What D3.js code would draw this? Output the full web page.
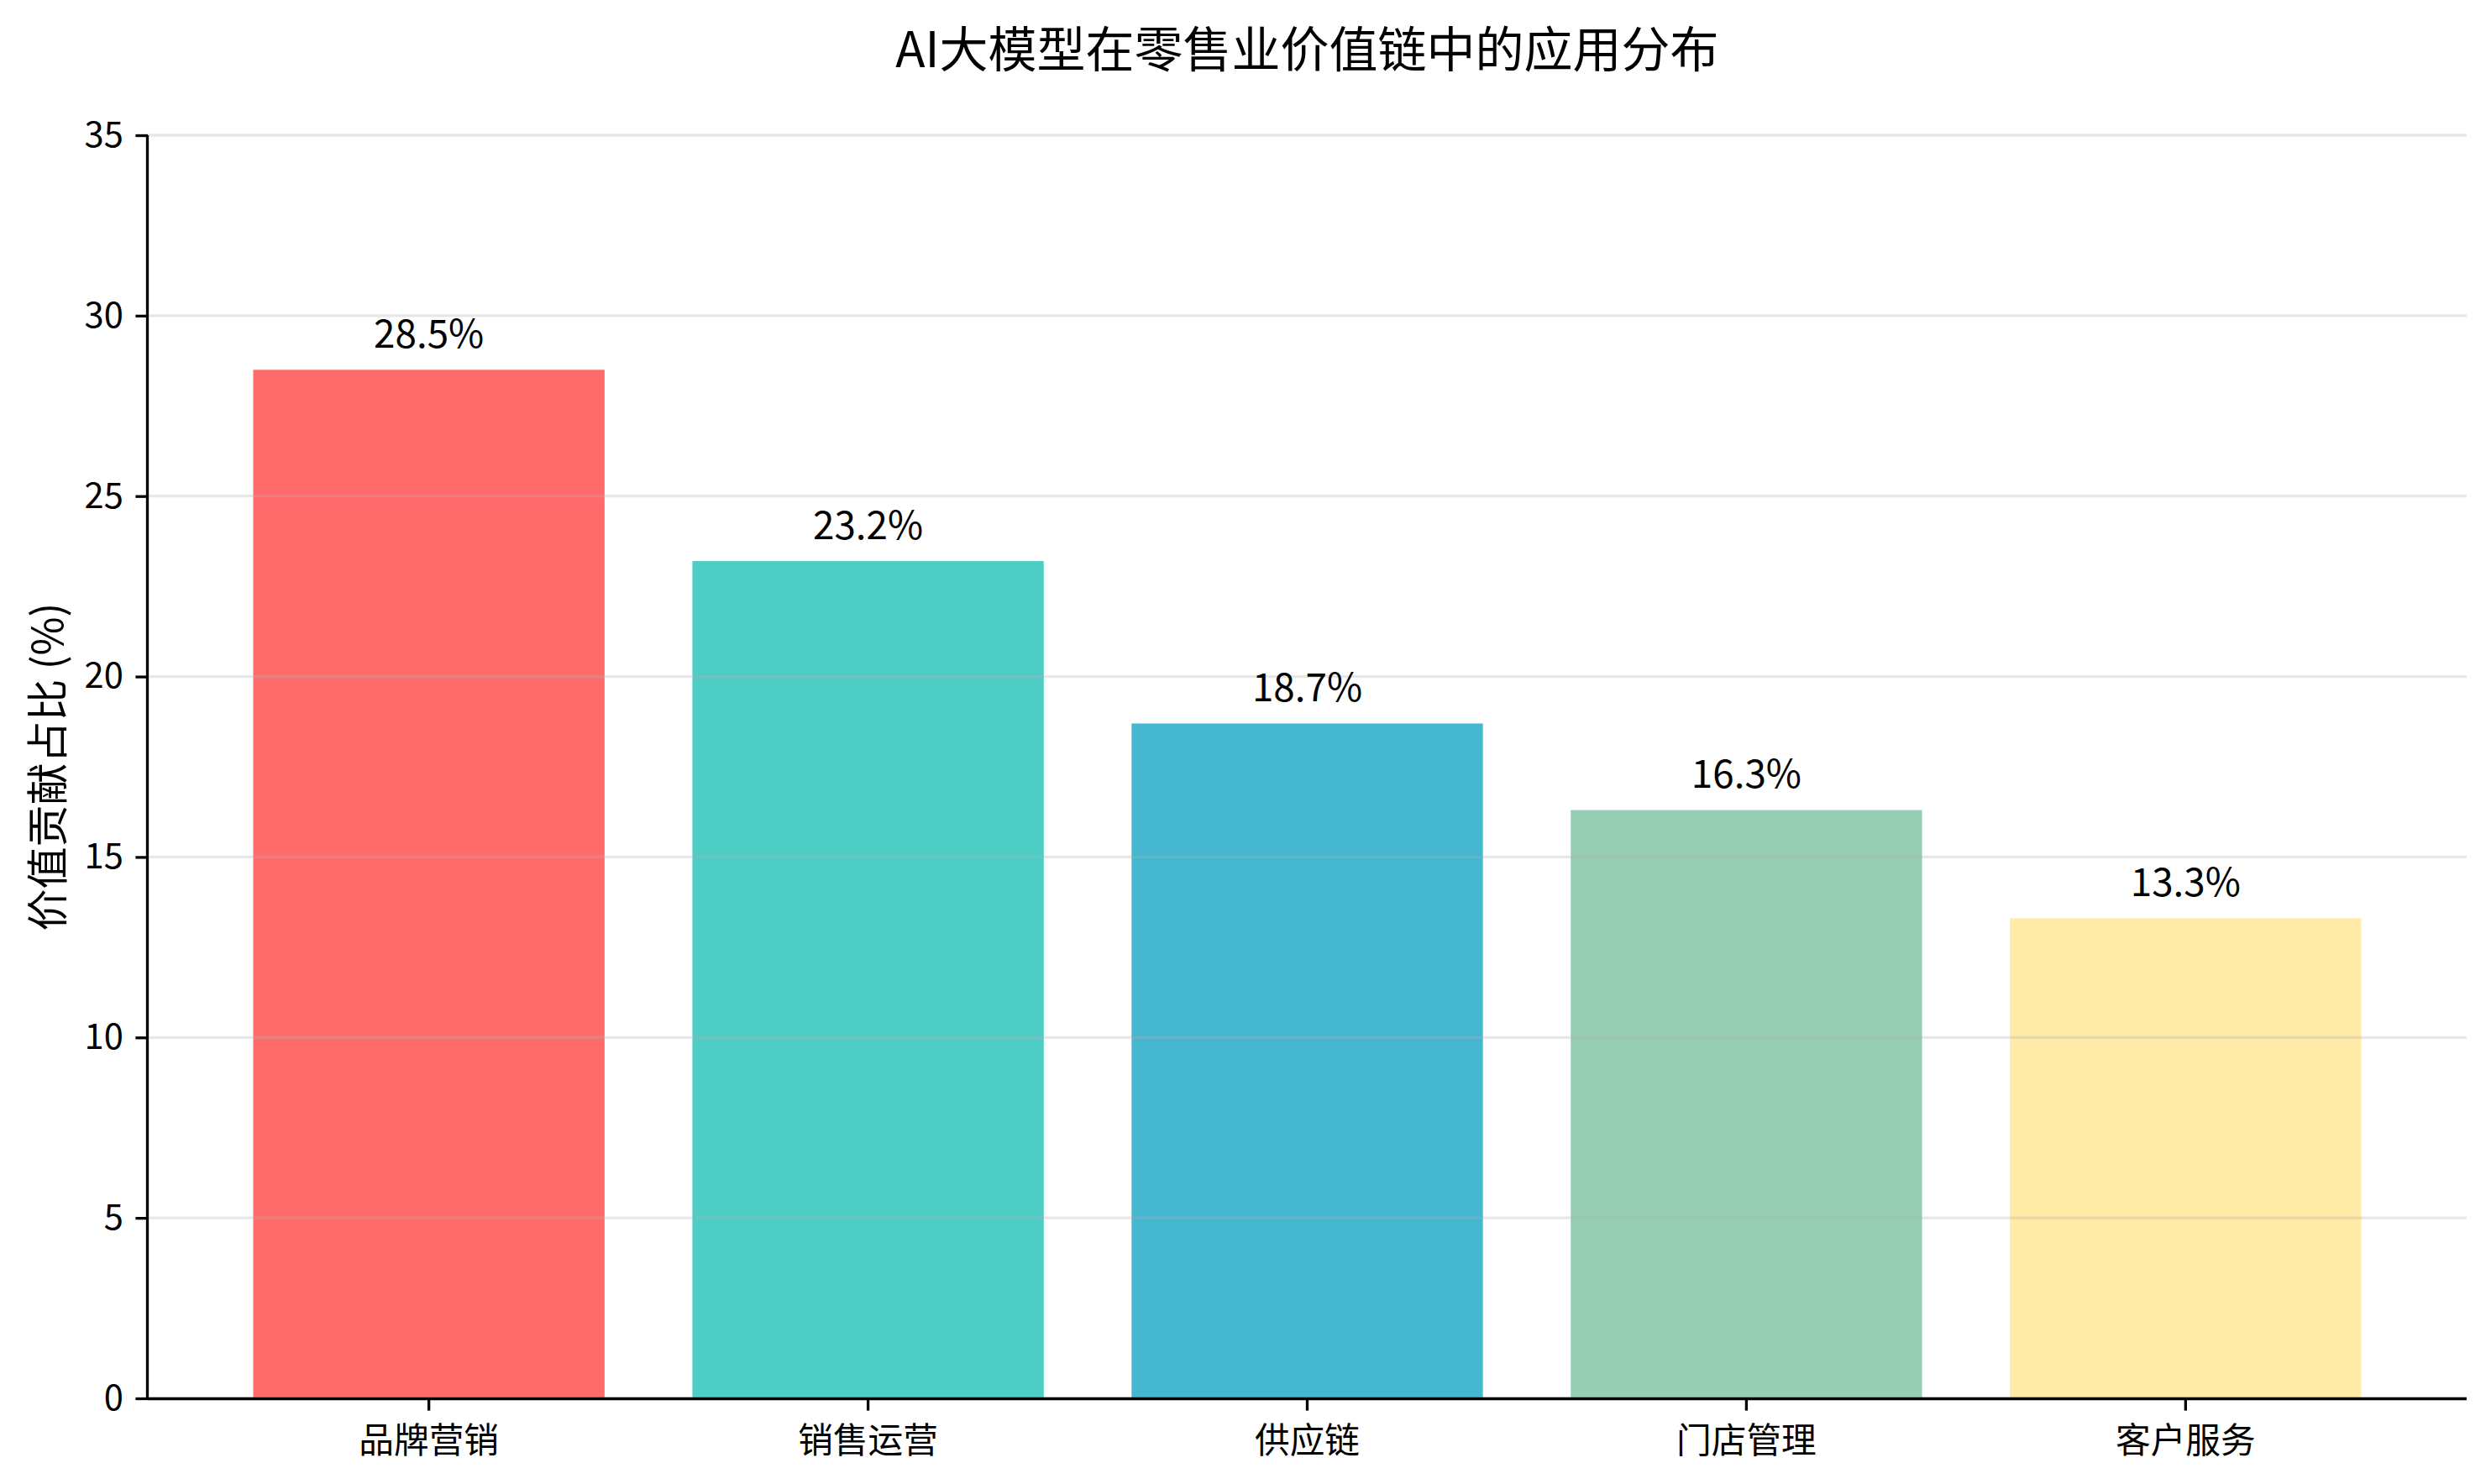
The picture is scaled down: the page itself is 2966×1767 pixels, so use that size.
<!DOCTYPE html>
<html>
<head>
  <meta charset="utf-8">
  <title>AI大模型在零售业价值链中的应用分布</title>
  <script src="https://d3js.org/d3.v7.min.js"></script>
  <style>
    body {
      margin: 0;
      padding: 0;
      background: white;
    }
    svg {
      display: block;
      background: white;
      font-family: "Noto Sans CJK SC", "Noto Sans", sans-serif;
    }
  </style>
</head>
<body>
  <svg id="chart" width="2966" height="1767"></svg>

  <script>
    // data
    const categories = ["品牌营销", "销售运营", "供应链", "门店管理", "客户服务"];
    const shares = [28.5, 23.2, 18.7, 16.3, 13.3];
    const barColors = ["#FF6B6B", "#4ECDC4", "#45B7D1", "#96CEB4", "#FFEAA7"];
    const yTicks = [0, 5, 10, 15, 20, 25, 30, 35];

    const titleText = "AI大模型在零售业价值链中的应用分布";
    const yLabelText = "价值贡献占比 (%)";

    const W = 2966, H = 1767;
    const margin = { top: 161, right: 29, bottom: 102, left: 176 };
    const innerW = W - margin.left - margin.right;
    const innerH = H - margin.top - margin.bottom;

    const svg = d3.select("#chart");
    const g = svg.append("g")
      .attr("transform", `translate(${margin.left},${margin.top})`);

    const x = d3.scaleBand()
      .domain(categories)
      .range([0, innerW])
      .paddingInner(0.2)
      .paddingOuter(0.24);

    const y = d3.scaleLinear()
      .domain([0, 35])
      .range([innerH, 0]);

    // bars
    g.selectAll("rect.bar")
      .data(categories)
      .join("rect")
      .attr("class", "bar")
      .attr("x", d => x(d))
      .attr("width", x.bandwidth())
      .attr("y", (d, i) => y(shares[i]))
      .attr("height", (d, i) => innerH - y(shares[i]))
      .attr("fill", (d, i) => barColors[i]);

    // light grid sits over the bars, like the original
    g.append("g")
      .selectAll("line")
      .data(yTicks)
      .join("line")
      .attr("x1", 0)
      .attr("x2", innerW)
      .attr("y1", d => y(d))
      .attr("y2", d => y(d))
      .attr("stroke", "#b0b0b0")
      .attr("stroke-opacity", 0.3)
      .attr("stroke-width", 3.3);

    // value labels
    g.selectAll("text.val")
      .data(categories)
      .join("text")
      .attr("class", "val")
      .attr("x", d => x(d) + x.bandwidth() / 2)
      .attr("y", (d, i) => y(shares[i] + 0.5) - 5)
      .attr("text-anchor", "middle")
      .attr("font-size", 45.8)
      .attr("fill", "#000")
      .text((d, i) => shares[i].toFixed(1) + "%");

    // axes
    const xAxis = g.append("g")
      .attr("transform", `translate(0,${innerH})`)
      .call(d3.axisBottom(x).tickSize(14.6).tickPadding(21));

    const yAxis = g.append("g")
      .call(d3.axisLeft(y).tickValues(yTicks).tickSize(14.6).tickPadding(14.6));

    [xAxis, yAxis].forEach(ax => {
      ax.select(".domain")
        .attr("stroke", "#000")
        .attr("stroke-width", 3.3);
      ax.selectAll(".tick line")
        .attr("stroke", "#000")
        .attr("stroke-width", 3.3);
      ax.selectAll(".tick text")
        .attr("fill", "#000")
        .attr("font-size", 41.7)
        .attr("font-family", "\"Noto Sans CJK SC\", \"Noto Sans\", sans-serif");
    });
    // matplotlib style: spine only, no outer tick caps
    xAxis.select(".domain").attr("d", `M0,0.5H${innerW}`);
    yAxis.select(".domain").attr("d", `M-0.5,${innerH}V0`);

    // y label
    svg.append("text")
      .attr("transform", `translate(53,${margin.top + innerH / 2}) rotate(-90)`)
      .attr("text-anchor", "middle")
      .attr("dominant-baseline", "central")
      .attr("font-size", 50)
      .attr("fill", "#000")
      .text(yLabelText);

    // title
    svg.append("text")
      .attr("x", margin.left + innerW / 2)
      .attr("y", 80)
      .attr("text-anchor", "middle")
      .attr("font-size", 58)
      .attr("font-weight", 400)
      .attr("fill", "#000")
      .text(titleText);
  </script>
</body>
</html>
